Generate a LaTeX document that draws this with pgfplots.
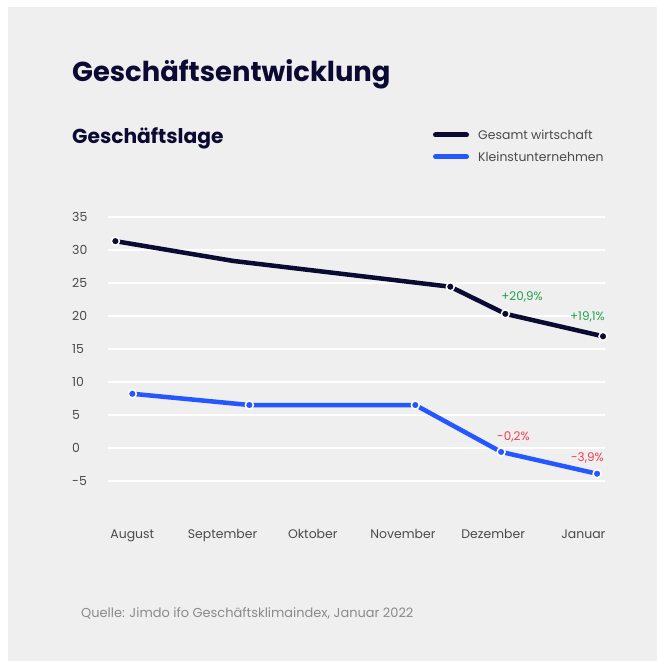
\documentclass[border=0pt]{standalone}
\usepackage{pgfplots}
\pgfplotsset{compat=1.18}
\usepackage{fontspec}
\setmainfont{Poppins}
\definecolor{bg}{HTML}{EFEFEF}
\definecolor{navy}{HTML}{0A0A32}
\definecolor{blu}{HTML}{2457FF}
\definecolor{grn}{HTML}{22A04B}
\definecolor{rd}{HTML}{F23D52}
\definecolor{tk}{HTML}{4A4A4A}
\definecolor{src}{HTML}{8A8A8A}
\begin{document}
\begin{tikzpicture}[x=1bp,y=1bp]
\useasboundingbox (0,0) rectangle (657,661);
\fill[white] (0,0) rectangle (657,661);
\fill[bg] (8,0) rectangle (657,654);
\begin{axis}[at={(108bp,180bp)}, anchor=south west, scale only axis,
  width=497bp, height=264.3bp,
  xmin=-0.27, xmax=5.24, ymin=-5, ymax=35,
  axis line style={draw=none}, tick style={draw=none}, major tick length=0pt,
  ytick={-5,0,5,10,15,20,25,30,35},
  yticklabels={-5,0,5,10,15,20,25,30,35},
  xtick={0,1,2,3,4,5},
  xticklabels={August,September,Oktober,November,Dezember,Januar},
  ymajorgrids, grid style={white, line width=2bp},
  tick label style={font=\fontsize{12.5}{14}\selectfont, text=tk},
  yticklabel style={anchor=west, inner sep=0pt, xshift=-36bp},
  xticklabel style={anchor=base, inner sep=0pt, yshift=-58bp},
  clip=false]
\addplot[navy, line width=4.5bp, line join=round, line cap=round] coordinates {(-0.188,31.3)(1.12,28.3)(3.525,24.4)(4.135,20.3)(5.218,16.9)};
\addplot[only marks, mark=*, mark size=4bp, mark options={fill=navy, draw=white, line width=1.5bp}] coordinates {(-0.188,31.3)(3.525,24.4)(4.135,20.3)(5.218,16.9)};
\addplot[blu, line width=4.5bp, line join=round, line cap=round] coordinates {(0,8.2)(1.297,6.5)(3.137,6.5)(4.088,-0.6)(5.152,-3.9)};
\addplot[only marks, mark=*, mark size=4bp, mark options={fill=blu, draw=white, line width=1.5bp}] coordinates {(0,8.2)(1.297,6.5)(3.137,6.5)(4.088,-0.6)(5.152,-3.9)};
\node[text=grn, font=\fontsize{12}{14}\selectfont] at (axis cs:4.32,22.9) {+20,9\%};
\node[text=grn, font=\fontsize{12}{14}\selectfont] at (axis cs:5.045,19.8) {+19,1\%};
\node[text=rd, font=\fontsize{12}{14}\selectfont] at (axis cs:4.224,1.73) {-0,2\%};
\node[text=rd, font=\fontsize{12}{14}\selectfont] at (axis cs:5.045,-1.46) {-3,9\%};
\end{axis}
\node[anchor=base west, inner sep=0pt, text=navy, font=\fontsize{27.5}{32}\selectfont\bfseries] at (72,579) {Geschäftsentwicklung};
\node[anchor=base west, inner sep=0pt, text=navy, font=\fontsize{20.3}{24}\selectfont\bfseries] at (72,517) {Geschäftslage};
\draw[navy, line width=5bp, line cap=round] (435.5,526) -- (466.5,526);
\draw[blu, line width=5bp, line cap=round] (435.5,504.3) -- (466.5,504.3);
\node[anchor=west, inner sep=0pt, text=tk, font=\fontsize{12.5}{14}\selectfont] at (478,526) {Gesamt wirtschaft};
\node[anchor=west, inner sep=0pt, text=tk, font=\fontsize{12.5}{14}\selectfont] at (478,504.3) {Kleinstunternehmen};
\node[anchor=base west, inner sep=0pt, text=src, font=\fontsize{13}{15}\selectfont] at (81,43) {Quelle: Jimdo ifo Geschäftsklimaindex, Januar 2022};
\end{tikzpicture}
\end{document}
